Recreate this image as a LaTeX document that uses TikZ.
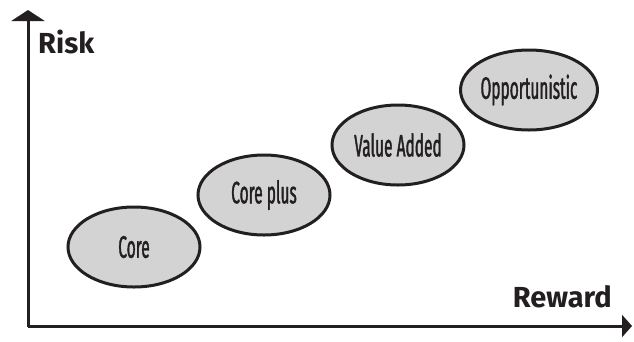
\documentclass[tikz,border=0pt]{standalone}
\usepackage{fontspec}
\usetikzlibrary{shapes.geometric,arrows.meta}
\newfontfamily\labelfont[FakeStretch=0.5,FakeBold=1.2]{Fira Sans}
\newfontfamily\axisfont{Fira Sans}
\definecolor{phasegrey}{HTML}{D3D3D3}
\definecolor{inkblack}{HTML}{231F20}

\begin{document}
\begin{tikzpicture}[x=1pt,y=-1pt,
	phase/.style={ellipse, draw=inkblack, line width=3pt, fill=phasegrey,
		minimum width=132pt, minimum height=80pt, inner sep=0pt,
		font=\labelfont\fontsize{31}{33}\selectfont, text=inkblack},
	axis/.style={draw=inkblack, line width=3pt},
	axislabel/.style={font=\axisfont\bfseries\fontsize{29}{31}\selectfont, text=inkblack, inner sep=0pt}]
\useasboundingbox (0,0) rectangle (634,341);

% axes
\coordinate (origin) at (28,327);
\coordinate (risktop) at (28,10);
\coordinate (rewardend) at (632,326);
\draw[axis, -{Triangle[width=33pt,length=11pt]}] (origin) -- (risktop);
\draw[axis, -{Triangle[width=22pt,length=10pt]}] (28,326) -- (rewardend);

\node[axislabel, anchor=base west] (risk) at (38,53) {Risk};
\node[axislabel, anchor=base east] (reward) at (612,307) {Reward};

% phases
\node[phase] (core) at (134,247) {Core};
\node[phase] (coreplus) at (264,195) {Core plus};
\node[phase] (valueadded) at (398,145) {Value Added};
\node[phase] (opportunistic) at (529,90) {Opportunistic};

\end{tikzpicture}
\end{document}
